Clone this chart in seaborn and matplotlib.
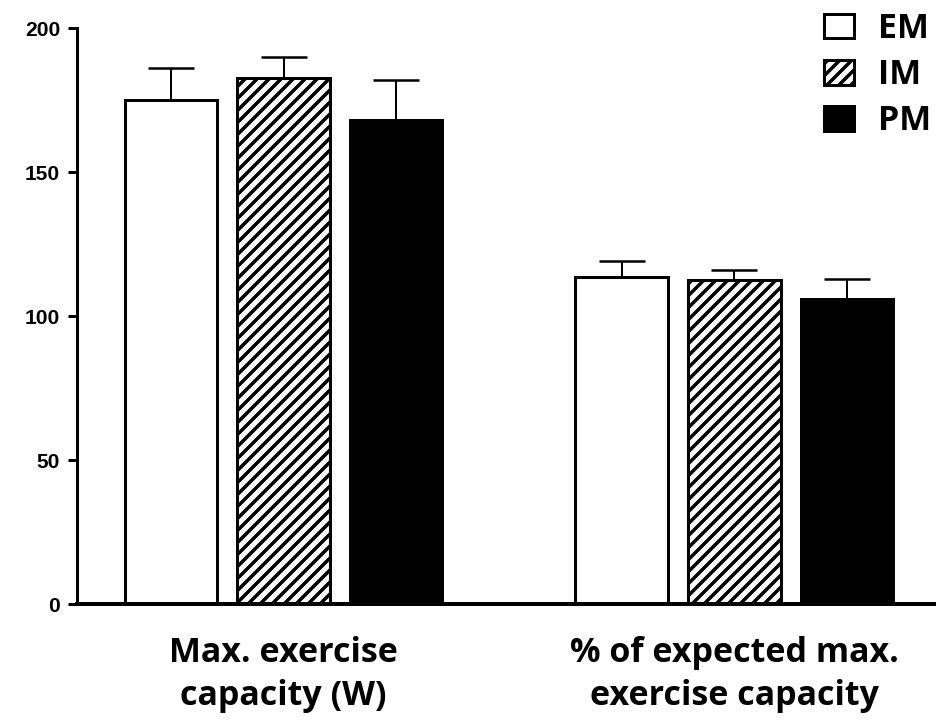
import matplotlib
matplotlib.use("Agg")
import matplotlib.pyplot as plt
import seaborn as sns
import pandas as pd
import numpy as np

# Exercise capacity by group (mean and SEM)
categories = ["Max. exercise\ncapacity (W)", "% of expected max.\nexercise capacity"]
groups = ["EM", "IM", "PM"]
em_mean = [175, 113.6]
im_mean = [182.5, 112.5]
pm_mean = [168, 105.8]
em_sem = [11, 5.5]
im_sem = [7.5, 3.5]
pm_sem = [14, 7]
yticks = [0, 50, 100, 150, 200]

means = {"EM": em_mean, "IM": im_mean, "PM": pm_mean}
sems = {"EM": em_sem, "IM": im_sem, "PM": pm_sem}
df = pd.DataFrame(
    [(c, g, means[g][i]) for g in groups for i, c in enumerate(categories)],
    columns=["measure", "group", "value"],
)

sns.set_style("ticks")
plt.rcParams["hatch.linewidth"] = 3.5
plt.rcParams["hatch.color"] = "black"
plt.rcParams["text.color"] = "black"
plt.rcParams["xtick.color"] = "black"
plt.rcParams["ytick.color"] = "black"
plt.rcParams["xtick.labelcolor"] = "black"
plt.rcParams["ytick.labelcolor"] = "black"

DPI = 72
fig = plt.figure(figsize=(936 / DPI, 725 / DPI), dpi=DPI)
ax = fig.add_axes([77 / 936, 1 - 604 / 725, 1 - 77 / 936, (604 - 28) / 725])

palette = {"EM": "white", "IM": "white", "PM": "black"}
sns.barplot(data=df, x="measure", y="value", hue="group", order=categories,
            hue_order=groups, palette=palette, width=0.75, gap=0.18,
            errorbar=None, legend=False, ax=ax, saturation=1)

hatches = {"EM": "", "IM": "//", "PM": ""}
for cont, g in zip(ax.containers, groups):
    for bar in cont:
        bar.set_edgecolor("black")
        bar.set_linewidth(3)
        bar.set_hatch(hatches[g])
    xs = [b.get_x() + b.get_width() / 2 for b in cont]
    ys = [b.get_height() for b in cont]
    ax.errorbar(xs, ys, yerr=[np.zeros(len(ys)), sems[g]], fmt="none",
                ecolor="black", elinewidth=2, capsize=23, capthick=2.5, zorder=1)

ax.set_ylim(0, 200)
ax.set_xlim(-0.458, 1.447)
ax.set_yticks(yticks)
ax.set_yticklabels([str(t) for t in yticks], fontfamily="Liberation Sans",
                   fontweight="bold", fontsize=21, color="black")
ax.set_xlabel("")
ax.set_ylabel("")
ax.tick_params(axis="x", length=0, pad=32)
ax.tick_params(axis="y", length=9, width=3, pad=8, color="black")
for lab in ax.get_xticklabels():
    lab.set_fontfamily("Open Sans")
    lab.set_fontweight("bold")
    lab.set_fontsize(34)
    lab.set_linespacing(1.33)
    lab.set_color("black")

sns.despine(ax=ax)
ax.spines["left"].set_linewidth(3)
ax.spines["bottom"].set_linewidth(4)
ax.spines["left"].set_color("black")
ax.spines["bottom"].set_color("black")

leg = ax.legend(ax.containers, groups, loc="upper right",
                bbox_to_anchor=(1.0 + 7 / 936, 1.0), bbox_transform=fig.transFigure,
                frameon=False, prop={"family": "Open Sans", "weight": "bold", "size": 34},
                handlelength=0.9, handleheight=0.75, handletextpad=0.7,
                labelspacing=0.36, borderaxespad=0.0, borderpad=0.35)
for t in leg.get_texts():
    t.set_color("black")

fig.savefig("out.png", dpi=DPI, facecolor="white")
